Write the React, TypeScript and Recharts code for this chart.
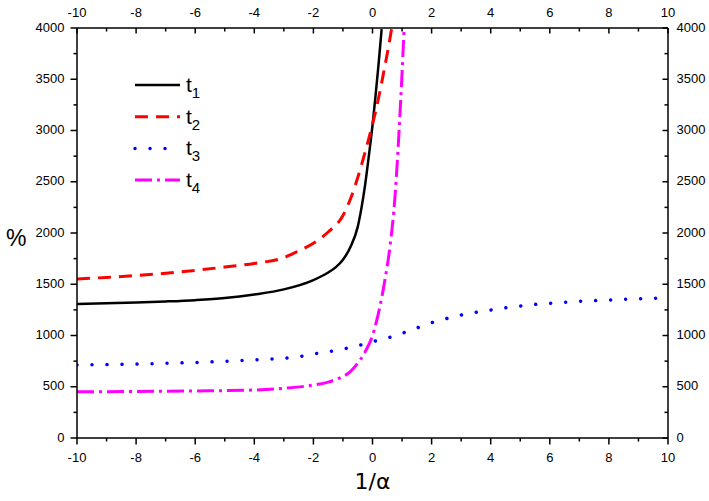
import React from 'react';
import { LineChart, Line, XAxis, YAxis, Legend } from 'recharts';

// ---- axis ticks ----
const xTicks = [-10, -9, -8, -7, -6, -5, -4, -3, -2, -1, 0, 1, 2, 3, 4, 5, 6, 7, 8, 9, 10];
const xLabels = [-10, -8, -6, -4, -2, 0, 2, 4, 6, 8, 10];
const yTicks = [0, 250, 500, 750, 1000, 1250, 1500, 1750, 2000, 2250, 2500, 2750, 3000, 3250, 3500, 3750, 4000];
const yLabels = [0, 500, 1000, 1500, 2000, 2500, 3000, 3500, 4000];

// ---- series values ----
const t1X = [-10, -9, -8, -7, -6, -5, -4, -3, -2, -1.5, -1.25, -1, -0.75, -0.5, -0.37, -0.25, -0.12, 0, 0.1, 0.2, 0.31];
const t1Y = [1307, 1314, 1322, 1332, 1345, 1365, 1400, 1450, 1541, 1615, 1665, 1740, 1860, 2060, 2250, 2470, 2760, 3050, 3330, 3630, 3990];

const t2X = [-10, -9, -8, -7, -6, -5, -4, -3, -2.5, -2, -1.5, -1, -0.75, -0.5, -0.25, 0, 0.2, 0.4, 0.55, 0.65];
const t2Y = [1551, 1567, 1585, 1607, 1635, 1668, 1703, 1760, 1825, 1900, 2010, 2170, 2330, 2540, 2790, 3060, 3310, 3600, 3830, 4000];

const t3X = [-10, -9, -8, -7, -6, -5, -4, -3.5, -3, -2.5, -2, -1.5, -1, -0.5, 0, 0.5, 1, 1.5, 2, 2.5, 3, 3.5, 4, 4.5, 5, 5.5, 6, 6.5, 7, 7.5, 8, 8.5, 9, 9.5, 10];
const t3Y = [712, 716, 721, 729, 737, 748, 762, 769, 778, 793, 820, 842, 868, 900, 940, 975, 1021, 1073, 1125, 1164, 1200, 1226, 1249, 1271, 1288, 1304, 1314, 1324, 1334, 1340, 1346, 1353, 1359, 1363, 1369];

const t4X = [-10, -8, -6, -4, -3, -2, -1.5, -1.25, -1, -0.75, -0.5, -0.25, 0, 0.25, 0.42, 0.59, 0.76, 0.9, 1, 1.07];
const t4Y = [451, 454, 459, 468, 485, 517, 545, 570, 600, 647, 730, 840, 1000, 1281, 1541, 1866, 2350, 3000, 3560, 4000];

const toData = (xs: number[], ys: number[]) => xs.map((x, i) => ({ x, y: ys[i] }));

const SERIES = [
  { key: '1', data: toData(t1X, t1Y), color: '#000000', dash: undefined as string | undefined, width: 2.5, cap: 'butt' },
  { key: '2', data: toData(t2X, t2Y), color: '#ff0000', dash: '13 8', width: 3, cap: 'butt' },
  { key: '3', data: toData(t3X, t3Y), color: '#0000ff', dash: '0.01 15', width: 3.5, cap: 'round' },
  { key: '4', data: toData(t4X, t4Y), color: '#ff00ff', dash: '17 5 3 5', width: 3, cap: 'butt' },
];

const FONT = '"Liberation Sans", Arial, sans-serif';
const AX = '#000';

const BottomTick = (props: any) => {
  const { x, y, payload } = props;
  const major = xLabels.includes(payload.value);
  return (
    <g>
      <line x1={x} y1={y} x2={x} y2={y + (major ? 6.5 : 3.5)} stroke={AX} strokeWidth={1.5} />
      {major && (
        <text x={x} y={y + 19} textAnchor="middle" dominantBaseline="central" fontFamily={FONT} fontSize={13} fill="#000">
          {payload.value}
        </text>
      )}
    </g>
  );
};

const TopTick = (props: any) => {
  const { x, y, payload } = props;
  const major = xLabels.includes(payload.value);
  return (
    <g>
      <line x1={x} y1={y} x2={x} y2={y + (major ? 5.5 : 3.5)} stroke={AX} strokeWidth={1.5} />
      {major && (
        <text x={x} y={y - 15.5} textAnchor="middle" dominantBaseline="central" fontFamily={FONT} fontSize={13} fill="#000">
          {payload.value}
        </text>
      )}
    </g>
  );
};

const LeftTick = (props: any) => {
  const { x, y, payload } = props;
  const major = yLabels.includes(payload.value);
  return (
    <g>
      <line x1={x} y1={y} x2={x - (major ? 6.5 : 3.5)} y2={y} stroke={AX} strokeWidth={1.5} />
      {major && (
        <text x={x - 12.5} y={y - 1} textAnchor="end" dominantBaseline="central" fontFamily={FONT} fontSize={13} fill="#000">
          {payload.value}
        </text>
      )}
    </g>
  );
};

const RightTick = (props: any) => {
  const { x, y, payload } = props;
  const major = yLabels.includes(payload.value);
  return (
    <g>
      <line x1={x} y1={y} x2={x - (major ? 5.5 : 3.5)} y2={y} stroke={AX} strokeWidth={1.5} />
      {major && (
        <text x={x + 8.5} y={y - 1} textAnchor="start" dominantBaseline="central" fontFamily={FONT} fontSize={13} fill="#000">
          {payload.value}
        </text>
      )}
    </g>
  );
};

const LegendContent = () => (
  <svg width={90} height={135} style={{ display: 'block' }}>
    {SERIES.map((s, i) => {
      const cy = 15 + i * 31.7;
      return (
        <g key={s.key}>
          <line
            x1={5}
            y1={cy}
            x2={50}
            y2={cy}
            stroke={s.color}
            strokeWidth={s.width}
            strokeDasharray={s.dash}
            strokeLinecap={s.cap as any}
          />
          <text x={56} y={cy + 7} fontFamily={FONT} fontSize={21} fill="#000">
            t
            <tspan dy={6} fontSize={15}>
              {s.key}
            </tspan>
          </text>
        </g>
      );
    })}
  </svg>
);

export default function App() {
  return (
    <div style={{ position: 'absolute', left: 0, top: 0, width: 709, height: 501, background: '#fff' }}>
      <LineChart width={709} height={501} margin={{ top: 0, right: 0, bottom: 0, left: 0 }}>
        <XAxis
          xAxisId="bottom"
          orientation="bottom"
          type="number"
          dataKey="x"
          domain={[-10, 10]}
          ticks={xTicks}
          interval={0}
          height={63}
          tickSize={0}
          tickMargin={0}
          tickLine={false}
          tick={<BottomTick />}
          axisLine={{ stroke: AX, strokeWidth: 1.5 }}
          allowDataOverflow
          label={{ value: '1/α', position: 'insideBottom', offset: 12, style: { fontFamily: '"DejaVu Sans", sans-serif', fontSize: 22, fill: '#000' } }}
        />
        <XAxis
          xAxisId="top"
          orientation="top"
          type="number"
          dataKey="x"
          domain={[-10, 10]}
          ticks={xTicks}
          interval={0}
          height={28}
          tickSize={0}
          tickMargin={0}
          tickLine={false}
          tick={<TopTick />}
          axisLine={{ stroke: AX, strokeWidth: 1.5 }}
          allowDataOverflow
        />
        <YAxis
          yAxisId="left"
          orientation="left"
          type="number"
          domain={[0, 4000]}
          ticks={yTicks}
          interval={0}
          width={77}
          tickSize={0}
          tickMargin={0}
          tickLine={false}
          tick={<LeftTick />}
          axisLine={{ stroke: AX, strokeWidth: 1.5 }}
          allowDataOverflow
          label={{ value: '%', position: 'insideLeft', offset: 6, dy: 5, style: { fontFamily: FONT, fontSize: 23, fill: '#000' } }}
        />
        <YAxis
          yAxisId="right"
          orientation="right"
          type="number"
          domain={[0, 4000]}
          ticks={yTicks}
          interval={0}
          width={41}
          tickSize={0}
          tickMargin={0}
          tickLine={false}
          tick={<RightTick />}
          axisLine={{ stroke: AX, strokeWidth: 1.5 }}
          allowDataOverflow
        />
        {SERIES.map((s) => (
          <Line
            key={s.key}
            name={'t' + s.key}
            data={s.data}
            dataKey="y"
            xAxisId="bottom"
            yAxisId="left"
            type="monotone"
            stroke={s.color}
            strokeWidth={s.width}
            strokeDasharray={s.dash}
            strokeLinecap={s.cap as any}
            dot={false}
            activeDot={false}
            isAnimationActive={false}
          />
        ))}
        <Legend
          layout="vertical"
          align="center"
          verticalAlign="middle"
          content={<LegendContent />}
          wrapperStyle={{ left: 130, top: 70, width: 90, height: 135 }}
        />
      </LineChart>
    </div>
  );
}
